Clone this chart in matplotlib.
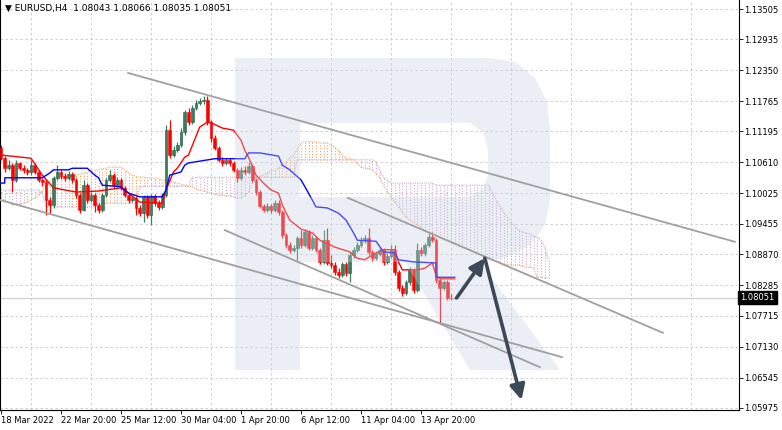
import matplotlib
matplotlib.use("Agg")
import matplotlib.pyplot as plt
import matplotlib.transforms as mtransforms
from matplotlib.patches import PathPatch
from matplotlib.path import Path
import numpy as np

# EURUSD H4 candles, first bar 18 Mar 2022 04:00
opens = [1.1088,1.1069,1.1050,1.1056,1.1028,1.1060,1.1050,1.1047,1.1043,1.1056,
         1.1043,1.1028,1.1024,1.0990,1.0981,1.1032,1.1043,1.1035,1.1032,1.1039,
         1.1028,1.0999,1.0971,1.1018,1.0990,1.0999,1.0981,1.0971,1.0999,1.1028,
         1.1037,1.1018,1.1028,1.1013,1.0999,1.0990,1.0994,1.0975,1.0965,1.0996,
         1.0962,1.0998,1.0984,1.0977,1.0999,1.1122,1.1075,1.1084,1.1094,1.1119,
         1.1156,1.1137,1.1164,1.1173,1.1177,1.1179,1.1137,1.1107,1.1088,1.1066,
         1.1060,1.1066,1.1060,1.1047,1.1032,1.1047,1.1043,1.1054,1.1028,1.1005,
         1.0979,1.0971,1.0979,1.0971,1.0984,1.0967,1.0924,1.0905,1.0896,1.0899,
         1.0918,1.0905,1.0930,1.0899,1.0918,1.0896,1.0873,1.0914,1.0871,1.0867,
         1.0854,1.0848,1.0869,1.0852,1.0886,1.0896,1.0905,1.0914,1.0918,1.0892,
         1.0880,1.0888,1.0896,1.0873,1.0884,1.0896,1.0854,1.0824,1.0814,1.0835,
         1.0858,1.0820,1.0896,1.0890,1.0905,1.0920,1.0914,1.0839,1.0824,1.0835,
         1.0805,1.08043]
highs = [1.1094,1.1073,1.1066,1.1060,1.1066,1.1062,1.1056,1.1050,1.1066,1.1060,
         1.1047,1.1032,1.1028,1.0996,1.1035,1.1056,1.1047,1.1041,1.1045,1.1043,
         1.1032,1.1003,1.1028,1.1022,1.1005,1.1003,1.0984,1.1003,1.1032,1.1047,
         1.1041,1.1033,1.1032,1.1016,1.1003,1.0999,1.0998,1.0981,1.0999,1.0999,
         1.1001,1.1001,1.0990,1.1003,1.1132,1.1141,1.1092,1.1100,1.1126,1.1160,
         1.1164,1.1170,1.1179,1.1183,1.1187,1.1187,1.1141,1.1113,1.1092,1.1071,
         1.1069,1.1069,1.1064,1.1050,1.1052,1.1054,1.1062,1.1058,1.1032,1.1009,
         1.0982,1.0984,1.0982,1.0990,1.0990,1.0971,1.0928,1.0911,1.0905,1.0922,
         1.0933,1.0935,1.0933,1.0924,1.0922,1.0899,1.0933,1.0937,1.0886,1.0873,
         1.0861,1.0873,1.0873,1.0892,1.0901,1.0911,1.0920,1.0924,1.0937,1.0896,
         1.0894,1.0901,1.0899,1.0890,1.0905,1.0905,1.0858,1.0829,1.0839,1.0863,
         1.0861,1.0909,1.0901,1.0909,1.0928,1.0930,1.0918,1.0843,1.0839,1.0839,
         1.0812,1.08066]
lows = [1.1066,1.1043,1.1047,1.1005,1.1024,1.1047,1.1041,1.1037,1.1037,1.1039,
        1.1024,1.1016,1.0962,1.0965,1.0975,1.1028,1.1030,1.1026,1.1028,1.1022,
        1.0994,1.0965,1.0969,1.0984,1.0986,1.0967,1.0965,1.0967,1.0996,1.1024,
        1.1013,1.1015,1.1009,1.0996,1.0984,1.0986,1.0962,1.0960,1.0948,1.0956,
        1.0943,1.0979,1.0971,1.0973,1.0996,1.1069,1.1071,1.1081,1.1090,1.1113,
        1.1132,1.1134,1.1160,1.1170,1.1171,1.1132,1.1100,1.1084,1.1062,1.1054,
        1.1056,1.1054,1.1043,1.1024,1.1028,1.1037,1.1039,1.1024,1.0999,1.0975,
        1.0967,1.0967,1.0965,1.0967,1.0962,1.0918,1.0899,1.0890,1.0892,1.0873,
        1.0899,1.0901,1.0896,1.0896,1.0892,1.0869,1.0869,1.0867,1.0861,1.0848,
        1.0843,1.0844,1.0846,1.0835,1.0880,1.0892,1.0901,1.0909,1.0886,1.0875,
        1.0877,1.0884,1.0867,1.0869,1.0880,1.0848,1.0818,1.0809,1.0810,1.0829,
        1.0814,1.0816,1.0884,1.0884,1.0901,1.0911,1.0833,1.0758,1.0820,1.0801,
        1.0801,1.08035]
closes = [1.1069,1.1050,1.1056,1.1028,1.1060,1.1050,1.1047,1.1043,1.1056,1.1043,
          1.1028,1.1024,1.0990,1.0981,1.1032,1.1043,1.1035,1.1032,1.1039,1.1028,
          1.0999,1.0971,1.1018,1.0990,1.0999,1.0981,1.0971,1.0999,1.1028,1.1037,
          1.1018,1.1028,1.1013,1.0999,1.0990,1.0994,1.0975,1.0965,1.0996,1.0962,
          1.0998,1.0984,1.0977,1.0999,1.1122,1.1075,1.1084,1.1094,1.1119,1.1156,
          1.1137,1.1164,1.1173,1.1177,1.1179,1.1137,1.1107,1.1088,1.1066,1.1060,
          1.1066,1.1060,1.1047,1.1032,1.1047,1.1043,1.1054,1.1028,1.1005,1.0979,
          1.0971,1.0979,1.0971,1.0984,1.0967,1.0924,1.0905,1.0896,1.0899,1.0918,
          1.0905,1.0930,1.0899,1.0918,1.0896,1.0873,1.0914,1.0871,1.0867,1.0854,
          1.0848,1.0869,1.0852,1.0886,1.0896,1.0905,1.0914,1.0918,1.0892,1.0880,
          1.0888,1.0896,1.0873,1.0884,1.0896,1.0854,1.0824,1.0814,1.0835,1.0858,
          1.0820,1.0896,1.0890,1.0905,1.0920,1.0914,1.0839,1.0824,1.0835,1.0805,
          1.0804,1.08051]

# Ichimoku: tenkan / kijun read as (bar, price) vertices
tenkan_bar = [0,8,11,14,20,26,32,34,37,43,44,46,47,49,50,53,55,56,59,62,64,65,66,68,70,
              72,74,75,77,80,83,85,89,93,95,97,99,102,105,106,107,111,113,115,116,117,121]
tenkan = [1.1075,1.1069,1.1037,1.1013,1.1005,1.1007,1.1013,1.1003,1.0986,1.0984,1.1009,
          1.1043,1.1050,1.1071,1.1075,1.1128,1.1137,1.1136,1.1126,1.1122,1.1103,1.1084,
          1.1071,1.1037,1.1022,1.1009,1.1003,1.0981,1.0952,1.0935,1.0928,1.0914,1.0901,
          1.0892,1.0880,1.0877,1.0886,1.0896,1.0896,1.0873,1.0858,1.0858,1.0861,1.0871,
          1.0848,1.0841,1.0841]
kijun_bar = [0,1,1,11,13,14,18,19,23,25,26,27,32,34,37,43,44,45,48,49,50,57,65,66,69,74,
             75,77,80,82,84,87,90,92,94,95,100,102,105,106,110,116,116,121]
kijun = [1.1022,1.1022,1.1032,1.1032,1.1041,1.1047,1.1047,1.1050,1.1050,1.1037,1.1032,
         1.1018,1.1015,1.1003,1.0996,1.0996,1.1009,1.1037,1.1043,1.1056,1.1060,1.1068,
         1.1068,1.1079,1.1079,1.1073,1.1056,1.1047,1.1028,1.1003,1.0977,1.0975,1.0965,
         1.0952,1.0928,1.0914,1.0912,1.0892,1.0890,1.0877,1.0873,1.0871,1.0844,1.0844]

# Senkou spans, one value per bar (26 bars ahead of last candle)
senkou_a = [1.0994,1.0990,1.0986,1.0981,1.0982,1.0982,1.0984,1.0986,1.0990,1.0994,
            1.0999,1.1007,1.1015,1.1024,1.1032,1.1033,1.1033,1.1035,1.1035,1.1037,
            1.1037,1.1039,1.1041,1.1043,1.1045,1.1045,1.1047,1.1049,1.1050,1.1052,
            1.1052,1.1052,1.1052,1.1047,1.1041,1.1037,1.1035,1.1033,1.1033,1.1032,
            1.1032,1.1030,1.1030,1.1028,1.1028,1.1026,1.1024,1.1022,1.1020,1.1018,
            1.1016,1.1015,1.1011,1.1009,1.1007,1.1005,1.1003,1.1001,1.0999,1.0999,
            1.0998,1.0998,1.0996,1.0994,1.0994,1.0998,1.1005,1.1022,1.1033,1.1035,
            1.1037,1.1041,1.1045,1.1047,1.1050,1.1056,1.1062,1.1069,1.1075,1.1086,
            1.1098,1.1100,1.1100,1.1100,1.1100,1.1098,1.1098,1.1098,1.1094,1.1090,
            1.1084,1.1075,1.1069,1.1068,1.1066,1.1060,1.1052,1.1050,1.1049,1.1047,
            1.1039,1.1032,1.1018,1.1005,1.0996,1.0986,1.0977,1.0967,1.0958,1.0952,
            1.0948,1.0943,1.0939,1.0933,1.0930,1.0926,1.0922,1.0918,1.0916,1.0914,
            1.0911,1.0909,1.0905,1.0901,1.0899,1.0896,1.0892,1.0888,1.0886,1.0882,
            1.0879,1.0877,1.0875,1.0873,1.0869,1.0867,1.0867,1.0867,1.0867,1.0865,
            1.0863,1.0863,1.0861,1.0844,1.0844,1.0843,1.0843]
senkou_b = ([1.1009] * 11 + [1.1005] + [1.0977] * 14 + [1.0984] * 11 + [1.1016] * 14 +
            [1.1033] * 28 + [1.1066] * 21 + [1.1062, 1.1047, 1.1033, 1.1028] +
            [1.1022] * 12 + [1.1018] * 15 +
            [1.1005,1.0990,1.0979,1.0967,1.0958,1.0948,1.0941,1.0933,1.0930,1.0928,
             1.0926,1.0922,1.0920,1.0914,1.0901,1.0877])

# hand drawn channel lines (bar, price) pairs and forecast path
trend_lines = [
    ((33.9, 1.1230), (195.7, 1.0911)),
    ((-0.3, 1.0990), (149.6, 1.0693)),
    ((59.7, 1.0933), (143.7, 1.0674)),
    ((92.5, 1.0994), (176.5, 1.0739)),
]
forecast_bar = [121.5, 129, 138.8]
forecast_price = [1.0805, 1.0880, 1.0612]

date_bars = [0, 16, 32, 48, 64, 80, 96, 112]
date_labels = ["18 Mar 2022", "22 Mar 20:00", "25 Mar 12:00", "30 Mar 04:00",
               "1 Apr 20:00", "6 Apr 12:00", "11 Apr 04:00", "13 Apr 20:00"]
price_ticks = [1.13505, 1.12935, 1.12350, 1.11765, 1.11195, 1.10610, 1.10025,
               1.09455, 1.08870, 1.08285, 1.07715, 1.07130, 1.06545, 1.05975]

W, H = 782, 430
fig = plt.figure(figsize=(W / 100, H / 100), dpi=100)
ax = fig.add_axes([0, 20 / H, 739 / W, 410 / H])
ax.set_xlim(-0.27, 196.8)
ax.set_ylim(1.05931, 1.1368)

# grid
for g in range(8, 200, 16):
    ax.axvline(g, color="#c8c8c8", lw=0.6, ls=(0, (3, 3)), zorder=0)
for p in price_ticks:
    ax.axhline(p, color="#c8c8c8", lw=0.6, ls=(0, (3, 3)), zorder=0)

# cloud hatching
a = np.array(senkou_a)
b = np.array(senkou_b)
xs = np.arange(len(a))
up = a >= b
ax.vlines(xs[up], b[up], a[up], colors="#f4a460", lw=0.8, linestyles=(0, (1, 1.5)), zorder=1)
ax.vlines(xs[~up], a[~up], b[~up], colors="#cfa8cf", lw=0.8, linestyles=(0, (1, 1.5)), zorder=1)
ax.plot(xs, a, color="#f4a460", lw=0.8, ls=(0, (1, 1)), zorder=1)
ax.plot(xs, b, color="#cfa8cf", lw=0.8, ls=(0, (1, 1)), zorder=1)

# bid line
ax.axhline(closes[-1], color="#d0d0d0", lw=0.8, zorder=1)

# candles
o = np.array(opens); c = np.array(closes); hi = np.array(highs); lo = np.array(lows)
idx = np.arange(len(c))
bull = c >= o
for mask, col, edge in ((bull, "#3a7d5c", "#2b5e45"), (~bull, "#ff0000", "#ff0000")):
    ax.vlines(idx[mask], lo[mask], hi[mask], colors=col, lw=0.9, zorder=3)
    ax.bar(idx[mask], np.maximum(np.abs(c[mask] - o[mask]), 0.00006),
           bottom=np.minimum(c[mask], o[mask]), width=0.75, color=col,
           edgecolor=edge, lw=0.4, zorder=4)

ax.plot(tenkan_bar, tenkan, color="#ff0000", lw=1.0, zorder=5)
ax.plot(kijun_bar, kijun, color="#0000ff", lw=1.0, zorder=5)

# watermark logo (figure pixels), sits over the price data but under the drawings
def px(pts):
    return [(x / W, 1 - y / H) for x, y in pts]

outer = [(235, 370), (235, 58), (490, 58), (515, 62), (535, 78), (547, 102), (550, 130),
         (550, 200), (545, 225), (530, 245), (505, 258), (480, 262), (560, 370), (470, 370),
         (405, 262), (300, 262), (300, 370)]
hole = [(300, 123), (470, 123), (483, 132), (488, 150), (488, 175), (482, 190), (470, 197),
        (300, 197)]
verts = px(outer) + [(0, 0)] + px(hole[::-1]) + [(0, 0)]
codes = ([Path.MOVETO] + [Path.LINETO] * (len(outer) - 1) + [Path.CLOSEPOLY] +
         [Path.MOVETO] + [Path.LINETO] * (len(hole) - 1) + [Path.CLOSEPOLY])
ax.add_patch(PathPatch(Path(verts, codes), transform=fig.transFigure, facecolor="#c8d3e4",
                       edgecolor="none", alpha=0.36, zorder=6, clip_on=False))

# trend lines
for (x0, y0), (x1, y1) in trend_lines:
    ax.plot([x0, x1], [y0, y1], color="#a0a0a0", lw=1.3, zorder=7)

# forecast arrows
arrow_kw = dict(arrowstyle="-|>,head_length=0.9,head_width=0.45", color="#3b4a56",
                lw=2.6, shrinkA=0, shrinkB=0)
ax.annotate("", xy=(forecast_bar[1], forecast_price[1]),
            xytext=(forecast_bar[0], forecast_price[0]), arrowprops=arrow_kw, zorder=8)
ax.annotate("", xy=(forecast_bar[2], forecast_price[2]),
            xytext=(forecast_bar[1], forecast_price[1]), arrowprops=arrow_kw, zorder=8)

# axes styling
for s in ax.spines.values():
    s.set_color("black")
    s.set_linewidth(0.8)
ax.spines["top"].set_visible(False)
ax.yaxis.tick_right()
ax.set_yticks(price_ticks)
ax.set_yticklabels([f"{p:.5f}" for p in price_ticks])
ax.set_xticks(date_bars)
ax.set_xticklabels(date_labels, ha="left")
ax.tick_params(axis="both", labelsize=6, length=3, width=0.6, color="black",
               labelcolor="black")
ax.tick_params(axis="y", pad=0.5)
ax.tick_params(axis="x", pad=1)

# current price box
trans = mtransforms.blended_transform_factory(ax.transAxes, ax.transData)
ax.text(1.002, closes[-1], f"{closes[-1]:.5f}", transform=trans, fontsize=6,
        color="white", va="center", ha="left",
        bbox=dict(boxstyle="square,pad=0.25", fc="black", ec="black"), zorder=12,
        clip_on=False)

fig.text(5 / W, 1 - 8 / H, "\u25bc EURUSD,H4  1.08043 1.08066 1.08035 1.08051",
         fontsize=6.5, va="center", ha="left", color="black")

fig.savefig("out.png", dpi=100, facecolor="white")
